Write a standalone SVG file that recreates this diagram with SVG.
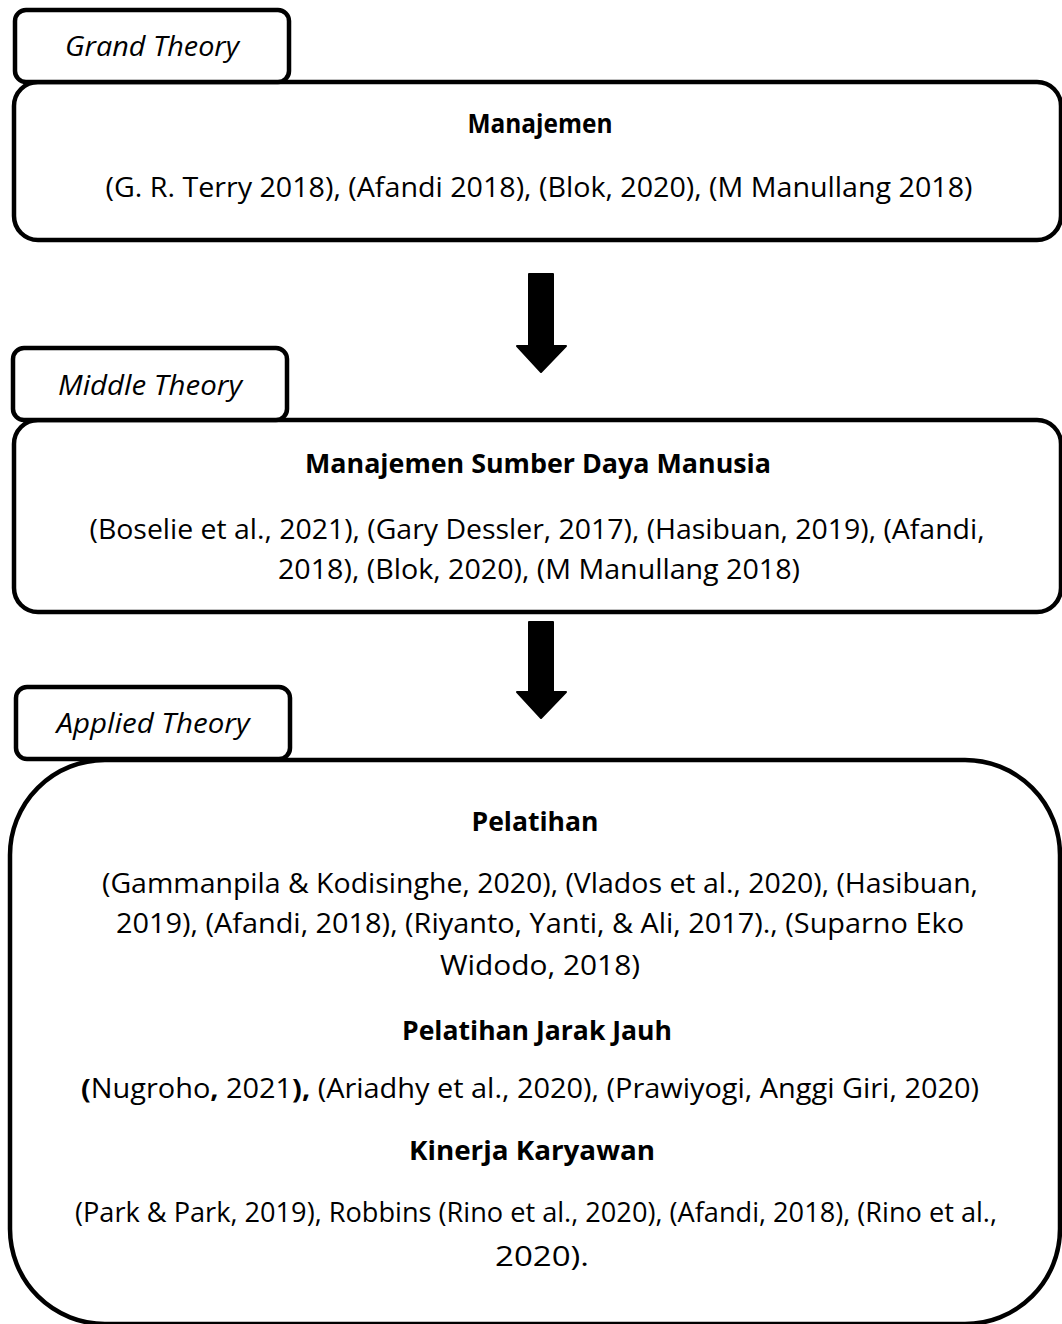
<svg xmlns="http://www.w3.org/2000/svg" width="1062" height="1324" viewBox="0 0 1062 1324">
<defs>
<style>
.box{fill:#fff;stroke:#000;stroke-width:4.5}
.tab{fill:#fff;stroke:#000;stroke-width:4.5}
.t{font-family:"Open Sans","Noto Sans","DejaVu Sans",sans-serif;font-size:27px;fill:#000;text-anchor:middle}
.b{font-weight:bold}
.i{font-style:italic}
.arrow{fill:#000}
</style>
</defs>
<rect width="1062" height="1324" fill="#fff"/>

<g id="grand">
<rect class="box" x="14" y="82" width="1047" height="158" rx="24"/>
<rect class="tab" x="15" y="10" width="274" height="72" rx="11"/>
<text class="t i" x="152" y="56" textLength="174" lengthAdjust="spacingAndGlyphs">Grand Theory</text>
<text class="t b" x="540" y="133" textLength="145" lengthAdjust="spacingAndGlyphs">Manajemen</text>
<text class="t" x="539" y="197" textLength="867" lengthAdjust="spacingAndGlyphs">(G. R. Terry 2018), (Afandi 2018), (Blok, 2020), (M Manullang 2018)</text>
</g>

<g id="middle">
<rect class="box" x="14" y="420" width="1047" height="192" rx="24"/>
<rect class="tab" x="13" y="348" width="274" height="72" rx="11"/>
<text class="t i" x="150" y="395" textLength="184" lengthAdjust="spacingAndGlyphs">Middle Theory</text>
<text class="t b" x="538" y="473" textLength="466" lengthAdjust="spacingAndGlyphs">Manajemen Sumber Daya Manusia</text>
<text class="t" x="537" y="539" textLength="895" lengthAdjust="spacingAndGlyphs">(Boselie et al., 2021), (Gary Dessler, 2017), (Hasibuan, 2019), (Afandi,</text>
<text class="t" x="539" y="579" textLength="522" lengthAdjust="spacingAndGlyphs">2018), (Blok, 2020), (M Manullang 2018)</text>
</g>

<g id="applied">
<rect class="box" x="10" y="760" width="1050" height="564" rx="95"/>
<rect class="tab" x="16" y="687" width="274" height="72" rx="11"/>
<text class="t i" x="153" y="733" textLength="193" lengthAdjust="spacingAndGlyphs">Applied Theory</text>
<text class="t b" x="535" y="831" textLength="127" lengthAdjust="spacingAndGlyphs">Pelatihan</text>
<text class="t" x="540" y="893" textLength="876" lengthAdjust="spacingAndGlyphs">(Gammanpila &amp; Kodisinghe, 2020), (Vlados et al., 2020), (Hasibuan,</text>
<text class="t" x="540" y="933" textLength="848" lengthAdjust="spacingAndGlyphs">2019), (Afandi, 2018), (Riyanto, Yanti, &amp; Ali, 2017)., (Suparno Eko</text>
<text class="t" x="540" y="975" textLength="200" lengthAdjust="spacingAndGlyphs">Widodo, 2018)</text>
<text class="t b" x="537" y="1040" textLength="270" lengthAdjust="spacingAndGlyphs">Pelatihan Jarak Jauh</text>
<text class="t" x="530" y="1098" textLength="898" lengthAdjust="spacingAndGlyphs"><tspan class="b">(</tspan>Nugroho<tspan class="b">,</tspan> 2021<tspan class="b">),</tspan> (Ariadhy et al., 2020), (Prawiyogi, Anggi Giri, 2020)</text>
<text class="t b" x="532" y="1160" textLength="246" lengthAdjust="spacingAndGlyphs">Kinerja Karyawan</text>
<text class="t" x="536" y="1222" textLength="922" lengthAdjust="spacingAndGlyphs">(Park &amp; Park, 2019), Robbins (Rino et al., 2020), (Afandi, 2018), (Rino et al.,</text>
<text class="t" x="542" y="1266" textLength="94" lengthAdjust="spacingAndGlyphs">2020).</text>
</g>

<g id="connectors">
<path class="arrow" d="M529,274 H553 V346 H566 L541,372 L517,346 H529 Z" stroke="#000" stroke-width="2" stroke-linejoin="round"/>
<path class="arrow" d="M529,622 H553 V692 H566 L541,718 L517,692 H529 Z" stroke="#000" stroke-width="2" stroke-linejoin="round"/>
</g>
</svg>
